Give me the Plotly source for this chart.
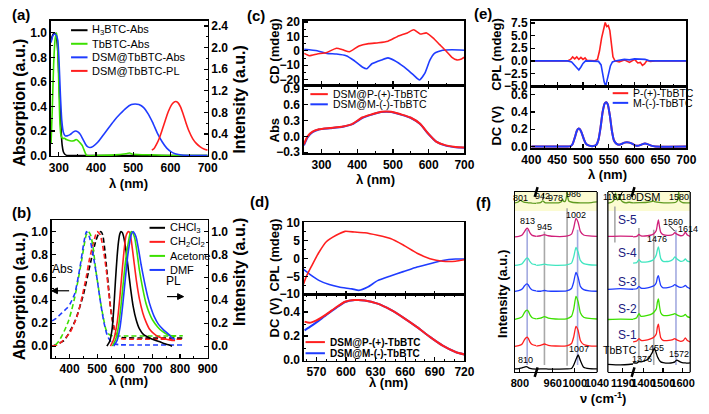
import plotly.graph_objects as go

W, H = 709, 414
FONT = "Liberation Sans, Arial, Helvetica, sans-serif"

# ---------------- data ----------------
# (a) absorption / PL
a_x_h3btc = [279, 282, 285, 288, 291, 294, 297, 300, 303, 306, 309, 312, 316, 322, 340, 400, 500, 600, 700]
a_y_h3btc = [0.93, 0.97, 0.99, 1.0, 0.99, 0.95, 0.85, 0.65, 0.4, 0.2, 0.08, 0.03, 0.01, 0.0, 0.0, 0.0, 0.0, 0.0, 0.0]
a_x_tbbtc = [279, 282, 286, 290, 294, 297, 300, 303, 306, 310, 315, 320, 330, 340, 346, 352, 358, 363, 367, 371,
             375, 400, 450, 480, 490, 500, 550, 600, 700]
a_y_tbbtc = [0.1, 0.35, 0.75, 0.95, 1.0, 0.88, 0.55, 0.25, 0.16, 0.14, 0.14, 0.13, 0.12, 0.12, 0.13, 0.12, 0.1, 0.08, 0.05, 0.02,
             0.0, 0.0, 0.005, 0.015, 0.02, 0.01, 0.005, 0.0, 0.0]
a_x_dsm_abs = [279, 283, 288, 293, 297, 300, 304, 308, 312, 317, 322, 330, 338, 345, 352, 358, 365, 372, 378, 384,
               392, 405, 420, 435, 450, 465, 480, 495, 505, 515, 528, 540, 552, 565, 578, 590, 602, 615, 630, 660, 700]
a_y_dsm_abs = [0.92, 0.97, 0.99, 0.98, 0.94, 0.8, 0.5, 0.28, 0.19, 0.16, 0.16, 0.17, 0.19, 0.2, 0.19, 0.17, 0.13, 0.09, 0.07, 0.065,
               0.075, 0.11, 0.17, 0.23, 0.29, 0.34, 0.385, 0.415, 0.42, 0.415, 0.39, 0.34, 0.27, 0.18, 0.11, 0.06, 0.03, 0.012, 0.004, 0.0, 0.0]
a_x_pl = [550, 556, 562, 570, 578, 586, 594, 602, 608, 614, 620, 627, 634, 642, 650, 660, 670, 680, 690, 700]
a_y_pl = [0.10, 0.13, 0.2, 0.32, 0.48, 0.65, 0.81, 0.93, 0.98, 1.0, 0.98, 0.9, 0.77, 0.6, 0.45, 0.31, 0.22, 0.16, 0.12, 0.1]
a_names = ["H<sub>3</sub>BTC-Abs", "TbBTC-Abs", "DSM@TbBTC-Abs", "DSM@TbBTC-PL"]

# (b) solvents: dashed = absorption, solid = PL
b_names = ["CHCl<sub>3</sub>", "CH<sub>2</sub>Cl<sub>2</sub>", "Acetone", "DMF"]
b_abs_x_chcl3 = [337, 380, 420, 450, 475, 495, 505, 513, 520, 527, 534, 542, 549, 557, 565, 572, 590, 700, 810]
b_abs_y_chcl3 = [0.0, 0.05, 0.22, 0.45, 0.72, 0.92, 0.98, 1.0, 0.97, 0.85, 0.68, 0.49, 0.32, 0.2, 0.12, 0.09, 0.075, 0.07, 0.07]
b_abs_x_ch2cl2 = [337, 355, 372, 388, 402, 417, 431, 446, 460, 472, 484, 493, 499, 505, 511, 518, 525, 533, 542, 550,
                  557, 565, 572, 580, 589, 620, 700, 810]
b_abs_y_ch2cl2 = [0.0, 0.01, 0.04, 0.08, 0.12, 0.2, 0.29, 0.44, 0.6, 0.76, 0.88, 0.96, 1.0, 0.99, 0.97, 0.9, 0.8, 0.66, 0.46, 0.3,
                  0.2, 0.13, 0.09, 0.075, 0.065, 0.06, 0.06, 0.06]
b_abs_x_acetone = [349, 360, 372, 384, 396, 408, 419, 431, 443, 452, 460, 468, 476, 484, 495, 505, 513, 522, 531, 540,
                   548, 560, 572, 600, 700, 810]
b_abs_y_acetone = [0.01, 0.04, 0.09, 0.15, 0.22, 0.32, 0.43, 0.58, 0.74, 0.87, 0.97, 1.0, 0.97, 0.88, 0.66, 0.5, 0.37, 0.25, 0.15, 0.11,
                   0.095, 0.09, 0.088, 0.088, 0.088, 0.09]
b_abs_x_dmf = [337, 350, 372, 390, 402, 419, 437, 452, 461, 472, 487, 500, 507, 516, 525, 533, 542, 551, 560, 580, 650, 810]
b_abs_y_dmf = [0.22, 0.24, 0.29, 0.33, 0.37, 0.46, 0.68, 0.91, 1.0, 0.95, 0.77, 0.58, 0.46, 0.32, 0.2, 0.12, 0.065, 0.035, 0.02, 0.012, 0.01, 0.01]
b_pl_x_chcl3 = [535, 545, 554, 560, 566, 572, 577, 582, 586, 591, 597, 605, 613, 621, 630, 641, 653, 668, 683, 700, 724, 745, 760, 771]
b_pl_y_chcl3 = [0.0, 0.04, 0.15, 0.33, 0.57, 0.78, 0.91, 0.98, 1.0, 0.99, 0.94, 0.82, 0.66, 0.5, 0.35, 0.23, 0.15, 0.1, 0.08, 0.06, 0.04, 0.02, 0.01, 0.0]
b_pl_x_ch2cl2 = [548, 560, 572, 581, 589, 597, 604, 609, 614, 619, 624, 632, 642, 653, 665, 677, 689, 705, 724, 750, 771, 782]
b_pl_y_ch2cl2 = [0.0, 0.06, 0.2, 0.4, 0.62, 0.83, 0.96, 0.99, 1.0, 0.98, 0.91, 0.76, 0.57, 0.41, 0.29, 0.21, 0.15, 0.11, 0.08, 0.06, 0.05, 0.05]
b_pl_x_acetone = [555, 567, 577, 586, 595, 604, 613, 619, 624, 629, 636, 644, 653, 665, 677, 690, 700, 718, 735, 755, 771, 782]
b_pl_y_acetone = [0.0, 0.06, 0.17, 0.35, 0.57, 0.77, 0.91, 0.98, 1.0, 0.99, 0.94, 0.82, 0.66, 0.5, 0.37, 0.28, 0.23, 0.17, 0.13, 0.1, 0.09, 0.08]
b_pl_x_dmf = [560, 572, 583, 592, 601, 610, 618, 624, 630, 636, 642, 650, 659, 671, 683, 695, 706, 722, 741, 760, 771, 782]
b_pl_y_dmf = [0.0, 0.05, 0.17, 0.35, 0.57, 0.78, 0.91, 0.98, 1.0, 0.98, 0.94, 0.84, 0.71, 0.56, 0.43, 0.33, 0.26, 0.19, 0.14, 0.1, 0.07, 0.06]

# (c) CD and absorption
c_names = ["DSM@P-(+)-TbBTC", "DSM@M-(-)-TbBTC"]
c_cd_x_p = [252, 266, 288, 315, 342, 360, 378, 405, 432, 459, 486, 513, 540, 558, 576, 594, 612, 630, 648, 665, 679, 692, 700]
c_cd_y_p = [-1.8, -3.4, -2.2, -1.1, 1.8, 0.7, -0.7, 3.4, 5.0, 5.6, 6.7, 10.0, 12.4, 14.6, 11.7, 12.4, 9.0, 4.5, 0.0, -4.5, -6.3, -5.6, -4.5]
c_cd_x_m = [252, 288, 315, 342, 369, 391, 414, 427, 441, 468, 486, 504, 531, 558, 574, 589, 603, 616, 639, 665, 700]
c_cd_y_m = [1.1, 0.0, -1.8, -2.2, -3.4, -6.7, -11.2, -12.4, -9.0, -6.3, -4.9, -6.7, -11.2, -16.9, -20.2, -15.7, -6.7, -1.8, 0.4, 0.7, 0.4]
c_abs_x = [251, 261, 275, 293, 324, 360, 387, 414, 441, 468, 495, 522, 549, 576, 598, 621, 648, 675, 700]
c_abs_y_p = [-0.15, 0.0, 0.09, 0.135, 0.16, 0.19, 0.24, 0.36, 0.42, 0.47, 0.47, 0.42, 0.36, 0.24, 0.06, -0.1, -0.17, -0.2, -0.21]
c_abs_y_m = [-0.17, -0.02, 0.08, 0.13, 0.155, 0.185, 0.235, 0.35, 0.415, 0.465, 0.465, 0.415, 0.355, 0.235, 0.055, -0.1, -0.175, -0.205, -0.215]

# (d) CPL and DC of DSM
d_cpl_x_p = [557, 560, 565, 572, 580, 590, 599, 609, 619, 632, 645, 658, 672, 685, 698, 711, 720]
d_cpl_y_p = [-7.1, -4.9, -2.2, 1.4, 4.6, 6.4, 7.5, 7.3, 7.1, 6.4, 5.5, 3.7, 1.4, -0.1, -0.8, -0.8, -0.4]
d_cpl_x_m = [557, 563, 573, 583, 593, 606, 613, 622, 632, 645, 658, 672, 685, 698, 711, 720]
d_cpl_y_m = [-3.1, -4.4, -6.2, -7.3, -8.0, -8.5, -8.9, -8.0, -6.2, -4.9, -3.7, -2.4, -1.5, -0.6, -0.2, -0.2]
d_dc_x = [558, 563, 570, 580, 590, 599, 609, 619, 632, 645, 658, 672, 685, 698, 711, 720]
d_dc_y_p = [0.32, 0.31, 0.33, 0.38, 0.44, 0.486, 0.5, 0.497, 0.47, 0.42, 0.354, 0.274, 0.193, 0.12, 0.067, 0.046]
d_dc_y_m = [0.247, 0.274, 0.314, 0.376, 0.435, 0.484, 0.5, 0.497, 0.47, 0.42, 0.354, 0.274, 0.193, 0.12, 0.067, 0.046]

# (e) CPL and DC of TbBTC
e_names = ["P-(+)-TbBTC", "M-(-)-TbBTC"]
e_cpl_x_p = [400, 470, 476, 480, 484, 488, 492, 496, 500, 504, 508, 514, 522, 528, 532, 536, 540, 543, 546, 549,
             552, 555, 558, 562, 570, 580, 590, 600, 606, 611, 615, 619, 624, 630, 640, 700]
e_cpl_y_p = [0.0, 0.0, 0.3, 0.8, 0.4, 0.8, 0.3, 0.7, 0.3, 0.6, 0.1, 0.0, 0.0, 0.3, 2.0, 4.5, 6.5, 7.6, 6.8, 7.0,
             6.0, 3.5, 0.8, 0.0, -0.2, 0.2, -0.3, 0.3, -0.4, -0.3, -0.9, -0.6, 0.1, -0.1, 0.0, 0.0]
e_cpl_x_m = [400, 470, 478, 483, 488, 492, 496, 500, 505, 520, 530, 535, 538, 541, 544, 547, 550, 553, 557, 562,
             580, 590, 600, 610, 620, 630, 700]
e_cpl_y_m = [0.0, 0.0, -0.2, -0.8, -1.3, -1.8, -1.2, -0.5, 0.0, 0.0, -0.1, -0.8, -2.5, -4.2, -5.0, -3.5, -2.2, -1.0, -0.2, 0.0,
             0.3, 0.2, 0.4, 0.3, 0.3, 0.0, 0.0]
e_dc_x = [400, 470, 476, 480, 484, 488, 491, 494, 498, 502, 506, 512, 520, 526, 530, 534, 538, 542, 545, 548,
          552, 556, 560, 565, 570, 575, 580, 585, 590, 596, 602, 608, 614, 620, 626, 632, 640, 700]
e_dc_y = [0, 0, 0.005, 0.03, 0.1, 0.18, 0.207, 0.2, 0.15, 0.08, 0.03, 0.01, 0.005, 0.02, 0.08, 0.22, 0.4, 0.5, 0.515, 0.49,
          0.36, 0.18, 0.07, 0.03, 0.02, 0.03, 0.045, 0.05, 0.045, 0.03, 0.01, 0.01, 0.025, 0.035, 0.025, 0.01, 0, 0]

# (f) Raman spectra (stacked, relative intensities)
f_x_grid = [791, 798, 804, 808, 811, 813, 815, 818, 822, 829,
            930, 938, 945, 952, 965, 985, 994, 998, 1002, 1006, 1010, 1016, 1026, 1040,
            1143, 1182, 1222,
            1346, 1365, 1376, 1387, 1420, 1445, 1455, 1465, 1471, 1476, 1481, 1488, 1500, 1530, 1550, 1560, 1570, 1590, 1604, 1614, 1624, 1639]
f_tbbtc = [0.3, 0.5, 0.8, 1.3, 1.5, 1.4, 1.0, 0.6, 0.3, 0.2,
           0.2, 0.3, 0.3, 0.2, 0.2, 0.3, 0.5, 2.5, 5.5, 8.0, 5.0, 1.2, 0.4, 0.3,
           2.8, 2.5, 3.0,
           3.7, 3.5, 4.5, 4.2, 5.5, 9.5, 11.8, 9.0, 7.0, 6.0, 5.0, 4.2, 3.8, 3.5, 3.8, 4.2, 5.2, 4.0, 3.6, 3.6, 3.5, 3.6]
f_s1 = [0.2, 0.6, 1.5, 3.8, 5.0, 5.3, 4.6, 2.6, 1.2, 0.6,
        0.3, 0.8, 1.5, 0.8, 0.4, 0.5, 1.8, 5.5, 11.3, 9.0, 3.5, 1.2, 0.5, 0.3,
        None, None, None,
        2.7, 3.2, 4.5, 3.5, 3.8, 4.8, 5.5, 7.0, 11.0, 12.6, 9.0, 5.0, 3.5, 3.5, 4.0, 4.5, 3.8, 3.0, 3.5, 4.9, 3.5, 2.7]
f_s2 = [0.3, 0.8, 1.8, 4.0, 5.2, 5.4, 4.8, 2.8, 1.2, 0.6,
        0.5, 1.0, 1.8, 1.0, 0.5, 0.6, 2.0, 6.0, 13.0, 10.0, 4.0, 1.5, 0.8, 0.5,
        0.2, 0.4, 0.3,
        0.4, 1.2, 3.5, 2.0, 2.5, 3.5, 4.5, 6.0, 10.0, 11.6, 8.0, 4.0, 2.5, 2.5, 3.0, 3.5, 2.8, 2.0, 2.2, 3.0, 1.8, 1.2]
f_s3 = [0.2, 0.6, 1.5, 3.2, 4.2, 4.4, 3.8, 2.2, 1.0, 0.5,
        0.4, 0.3, 0.7, 0.4, 0.3, 0.5, 1.8, 5.5, 10.8, 8.0, 3.0, 1.2, 0.5, 0.3,
        1.3, 1.8, 1.4,
        1.5, 1.7, 3.0, 2.0, 2.2, 3.0, 3.5, 5.0, 8.0, 9.0, 6.5, 3.5, 2.2, 2.5, 3.2, 4.0, 3.3, 2.4, 2.8, 3.5, 2.5, 1.8]
f_s4 = [0.3, 0.5, 1.2, 2.8, 4.0, 4.4, 4.0, 2.3, 1.0, 0.6,
        0.3, 0.5, 0.9, 0.5, 0.3, 0.5, 1.5, 5.0, 10.2, 7.5, 3.0, 1.2, 0.6, 0.4,
        None, None, None,
        1.5, 1.8, 3.5, 2.2, 2.2, 3.0, 4.0, 6.0, 9.0, 10.5, 8.0, 4.0, 2.5, 2.5, 3.5, 5.0, 4.0, 2.5, 2.8, 3.8, 2.6, 2.2]
f_s5 = [0.0, 0.3, 1.0, 2.8, 4.2, 4.8, 4.2, 2.2, 0.8, 0.3,
        0.2, 0.6, 1.2, 0.6, 0.2, 0.4, 1.5, 5.0, 10.2, 8.0, 3.0, 1.0, 0.5, 0.3,
        0.2, 0.4, 0.3,
        0.0, 0.3, 1.3, 0.5, 0.6, 1.2, 2.0, 3.5, 7.0, 9.4, 6.0, 2.5, 1.2, 0.8, 1.3, 2.3, 1.5, 0.6, 1.0, 2.6, 1.0, 0.2]
f_x_dsm = [791, 796, 799, 801, 803, 807, 815, 822, 829,
           930, 938, 942, 946, 960, 972, 976, 978, 980, 983, 985, 986, 987, 989, 995, 1010, 1025, 1040,
           1143, 1155, 1162, 1165, 1167, 1170, 1174, 1178, 1180, 1183, 1190, 1200, 1210, 1222,
           1346, 1380, 1420, 1445, 1450, 1455, 1490, 1530, 1565, 1575, 1578, 1580, 1582, 1586, 1600, 1620, 1639]
f_dsm = [0.5, 0.8, 1.5, 2.0, 1.5, 0.8, 0.5, 0.3, 0.2,
         0.3, 0.6, 1.6, 0.6, 0.4, 0.6, 1.2, 2.3, 1.2, 1.5, 4.0, 6.5, 4.0, 1.5, 0.8, 0.5, 0.5, 1.0,
         0.3, 0.8, 2.0, 4.5, 6.0, 3.0, 2.0, 4.0, 5.0, 2.5, 1.0, 0.5, 0.8, 0.5,
         0.5, 0.6, 0.8, 1.3, 1.5, 1.2, 0.6, 0.5, 0.8, 2.0, 4.5, 6.5, 4.5, 1.5, 0.6, 0.5, 0.5]
f_offsets = [1.5, 14.1, 29.0, 44.6, 59.0, 75.1, 93.5]   # TbBTC, S-1 ... S-5, DSM
f_labels = ["TbBTC", "S-1", "S-2", "S-3", "S-4", "S-5", "DSM"]
f_marker_lines = [("x9", 813), ("x10", 945), ("x10", 986), ("x10", 1005),
                  ("x11", 1165), ("x12", 1376), ("x12", 1452), ("x12", 1566)]

# ---------------- helpers ----------------
RED, BLUE, GREEN, BLACK = "#ff1f1f", "#1f3cff", "#3ce000", "#000000"
MAG, CYAN, OLIVE = "#d0207a", "#40e6c0", "#5f9a20"
NAVY = "#202080"

def px(v): return v / W
def py(v): return 1 - v / H
def dx(a, b): return [px(a), px(b)]
def dy(top, bottom): return [py(bottom), py(top)]

fig = go.Figure()

def add_line(x, y, xa, ya, color, width=1.6, dash=None, shape="spline"):
    ln = dict(color=color, width=width, shape=shape)
    if dash:
        ln["dash"] = dash
    if shape == "spline":
        ln["smoothing"] = 0.5
    fig.add_trace(go.Scatter(x=x, y=y, xaxis=xa, yaxis=ya, mode="lines", line=ln,
                             showlegend=False, hoverinfo="skip", connectgaps=False))

TICKFONT = dict(family=FONT, size=12, color="black", weight="bold")

def axis(**kw):
    d = dict(showline=True, linecolor="black", linewidth=1.3, mirror=True,
             ticks="inside", ticklen=4, tickwidth=1.2, tickcolor="black", tickangle=0,
             showgrid=False, zeroline=False, tickfont=TICKFONT, fixedrange=True)
    d.update(kw)
    return d

def minor(dt):
    return dict(ticks="inside", ticklen=2, tickwidth=1, tickcolor="black", dtick=dt, showgrid=False)

def ann(text, x, y, size=12, bold=False, angle=0, color="black", xanchor="center"):
    fig.add_annotation(text=text, x=px(x), y=py(y), xref="paper", yref="paper", showarrow=False,
                       textangle=angle, xanchor=xanchor, yanchor="middle",
                       font=dict(family=FONT, size=size, color=color, weight="bold" if bold else "normal"))

def legend_item(x0, x1, y, color, text, size, bold=False):
    fig.add_shape(type="line", xref="paper", yref="paper", x0=px(x0), x1=px(x1), y0=py(y), y1=py(y),
                  line=dict(color=color, width=2))
    ann(text, x1 + 3, y, size=size, bold=bold, xanchor="left")

def arrow(x_tail, x_head, y):
    # horizontal arrow drawn with shapes (paper pixels)
    fig.add_shape(type="line", xref="paper", yref="paper", x0=px(x_tail), x1=px(x_head), y0=py(y), y1=py(y),
                  line=dict(color="black", width=1.2))
    s = 1 if x_head > x_tail else -1
    path = "M {} {} L {} {} L {} {} Z".format(px(x_head), py(y), px(x_head - s * 6), py(y - 3),
                                              px(x_head - s * 6), py(y + 3))
    fig.add_shape(type="path", xref="paper", yref="paper", path=path,
                  fillcolor="black", line=dict(color="black", width=1))

# ---------------- (a) ----------------
add_line(a_x_h3btc, a_y_h3btc, "x", "y", BLACK)
add_line(a_x_tbbtc, a_y_tbbtc, "x", "y", GREEN)
add_line(a_x_dsm_abs, a_y_dsm_abs, "x", "y", BLUE)
add_line(a_x_pl, a_y_pl, "x", "y2", RED)
for i, (nm, col) in enumerate(zip(a_names, [BLACK, GREEN, BLUE, RED])):
    legend_item(63, 80, 25 + 14 * i, col, nm, 11)

# ---------------- (b) ----------------
DASH = "5px,3px"
add_line(b_abs_x_chcl3, b_abs_y_chcl3, "x2", "y3", BLACK, dash=DASH)
add_line(b_abs_x_ch2cl2, b_abs_y_ch2cl2, "x2", "y3", RED, dash=DASH)
add_line(b_abs_x_acetone, b_abs_y_acetone, "x2", "y3", GREEN, dash=DASH)
add_line(b_abs_x_dmf, b_abs_y_dmf, "x2", "y3", BLUE, dash=DASH)
add_line(b_pl_x_chcl3, b_pl_y_chcl3, "x2", "y4", BLACK)
add_line(b_pl_x_ch2cl2, b_pl_y_ch2cl2, "x2", "y4", RED)
add_line(b_pl_x_acetone, b_pl_y_acetone, "x2", "y4", GREEN)
add_line(b_pl_x_dmf, b_pl_y_dmf, "x2", "y4", BLUE)
for i, (nm, col) in enumerate(zip(b_names, [BLACK, RED, GREEN, BLUE])):
    legend_item(144, 160, 229 + 14.5 * i, col, nm, 11)
ann("Abs", 54, 272, size=12)
ann("PL", 169, 284, size=12)
arrow(61, 43, 294)
arrow(162, 179, 300)

# ---------------- (c) ----------------
add_line(c_cd_x_m, c_cd_y_m, "x3", "y5", BLUE)
add_line(c_cd_x_p, c_cd_y_p, "x3", "y5", RED)
add_line(c_abs_x, c_abs_y_m, "x4", "y6", BLUE, width=2)
add_line(c_abs_x, c_abs_y_p, "x4", "y6", RED, width=2)
legend_item(310, 328, 91, RED, c_names[0], 10.5)
legend_item(310, 328, 101.5, BLUE, c_names[1], 10.5)

# ---------------- (d) ----------------
add_line(d_cpl_x_m, d_cpl_y_m, "x5", "y7", BLUE)
add_line(d_cpl_x_p, d_cpl_y_p, "x5", "y7", RED)
add_line(d_dc_x, d_dc_y_m, "x6", "y8", BLUE, width=2)
add_line(d_dc_x, d_dc_y_p, "x6", "y8", RED, width=2)
legend_item(305, 325, 347, RED, c_names[0], 10, bold=True)
legend_item(305, 325, 358.5, BLUE, c_names[1], 10, bold=True)

# ---------------- (e) ----------------
add_line(e_cpl_x_p, e_cpl_y_p, "x7", "y9", RED, shape="linear")
add_line(e_cpl_x_m, e_cpl_y_m, "x7", "y9", BLUE, shape="linear")
add_line(e_dc_x, e_dc_y, "x8", "y10", RED, width=2)
add_line(e_dc_x, e_dc_y, "x8", "y10", BLUE, width=2)
legend_item(622, 638, 90, RED, e_names[0], 10.5)
legend_item(622, 638, 100, BLUE, e_names[1], 10.5)

# ---------------- (f) ----------------
f_segments = [(791, 829, "x9"), (930, 1040.5, "x10"), (1143, 1222, "x11"), (1346, 1639, "x12")]
f_colors = [BLACK, RED, GREEN, BLUE, CYAN, MAG, OLIVE]
f_series = [f_tbbtc, f_s1, f_s2, f_s3, f_s4, f_s5, f_dsm]

# pale yellow band behind the DSM reference spectrum
for x0, x1 in [(521, 606), (617, 702)]:
    fig.add_shape(type="rect", xref="paper", yref="y11", x0=px(x0), x1=px(x1), y0=89.5, y1=100,
                  fillcolor="#fbfbd2", line=dict(width=0), layer="below")

for (xa, xv), y0, y1, col in zip(f_marker_lines,
                                 [4, 4, 3.5, 4, 72, 5, 4, 4],
                                 [79, 78, 91, 79, 92, 80, 79, 79],
                                 ["#a3aae0", "#a8a8a8", "#a8a8a8", "#a3aae0", "#a8a8a8", "#a8a8a8", "#a8a8a8", "#a3aae0"]):
    fig.add_shape(type="line", xref=xa, yref="y11", x0=xv, x1=xv, y0=y0, y1=y1,
                  line=dict(color=col, width=1.6), layer="between")

for i, (ys, off, col) in enumerate(zip(f_series, f_offsets, f_colors)):
    xs = f_x_dsm if i == 6 else f_x_grid
    for lo, hi, xa in f_segments:
        sx = [x for x in xs if lo <= x <= hi]
        sy = [(y + off if y is not None else None) for x, y in zip(xs, ys) if lo <= x <= hi]
        if all(v is None for v in sy):
            continue
        add_line(sx, sy, xa, "y11", col, width=1.3)

def fann(text, xa, xv, yv, size=9, color="black"):
    fig.add_annotation(text=text, x=xv, y=yv, xref=xa, yref="y11", showarrow=False,
                       font=dict(family=FONT, size=size, color=color))

for t, xa, xv, yv in [("801", "x9", 801, 96.8), ("942", "x10", 942, 98.0), ("978", "x10", 965, 96.4),
                      ("986", "x10", 998, 98.9), ("813", "x9", 813, 84.0), ("945", "x10", 945, 80.6),
                      ("1002", "x10", 1002, 87.2), ("810", "x9", 810, 6.6), ("1007", "x10", 1007, 13.0),
                      ("1167", "x11", 1159, 97.3), ("1180", "x11", 1203, 97.3), ("1580", "x12", 1579, 97.3),
                      ("1560", "x12", 1549, 83.3), ("1614", "x12", 1627, 79.6), ("1476", "x12", 1470, 73.7),
                      ("1455", "x12", 1455, 13.4), ("1376", "x12", 1391, 7.5), ("1572", "x12", 1579, 10.2)]:
    fann(t, xa, xv, yv)
fann("DSM", "x12", 1425, 97.3, size=11)
fann("TbBTC", "x11", 1180, 12.4, size=10.5)
for lab, yv in zip(f_labels[1:6], [20.4, 35.0, 50.0, 66.1, 84.4]):
    fann(lab, "x11", 1206, yv, size=12, color=NAVY)

# tiny pointer strokes from labels to peaks (pixel-sized, anchored at the peak)
for xa, xv, yv, axp, ayp in [("x10", 942, 95.6, 1, 7), ("x11", 1166, 97.0, -5, 8),
                             ("x11", 1180, 97.5, 5, 8), ("x12", 1560, 78.2, -6, 6)]:
    fig.add_shape(type="line", xref=xa, yref="y11", xsizemode="pixel", ysizemode="pixel",
                  xanchor=xv, yanchor=yv, x0=0, y0=0, x1=axp, y1=ayp,
                  line=dict(color="black", width=1))

# extra frame lines and axis-break marks of (f)
for xv in [606, 617, 702]:
    fig.add_shape(type="line", xref="paper", yref="paper", x0=px(xv), x1=px(xv), y0=py(192), y1=py(378),
                  line=dict(color="black", width=1.3))
for xb, yb in [(543, 378), (543, 192), (643, 378), (643, 192)]:
    fig.add_shape(type="line", xref="paper", yref="paper", x0=px(xb - 1.5), x1=px(xb + 1.5),
                  y0=py(yb + 5), y1=py(yb - 5), line=dict(color="black", width=2.5))

# ---------------- titles ----------------
ann("(a)", 11, 9, 15, True)
ann("(b)", 12, 213, 15, True)
ann("(c)", 254, 10, 15, True)
ann("(d)", 258, 202, 15, True)
ann("(e)", 488, 8, 15, True)
ann("(f)", 489, 203, 15, True)

ann("Absorption (a.u.)", 10, 100, 16, True, -90)
ann("Intensity (a.u.)", 237, 97, 16, True, -90)
ann("λ (nm)", 122, 183, 13, True)
ann("Absorption (a.u.)", 10, 300, 16, True, -90)
ann("Intensity (a.u.)", 237, 275, 16, True, -90)
ann("λ (nm)", 122, 387, 13, True)
ann("CD (mdeg)", 273, 47, 13, True, -90)
ann("Abs", 273, 128, 13, True, -90)
ann("λ (nm)", 377, 179, 13, True)
ann("CPL (mdeg)", 273, 257, 13, True, -90)
ann("DC (V)", 273, 322, 13, True, -90)
ann("λ (nm)", 391, 389, 13, True)
ann("CPL (mdeg)", 502, 50, 13, True, -90)
ann("DC (V)", 502, 123, 13, True, -90)
ann("λ (nm)", 617, 174, 13, True)
ann("Intensity (a.u.)", 508, 297, 13, True, -90)
ann("ν (cm<sup>-1</sup>)", 612, 405, 13, True)

# ---------------- layout ----------------
FTICK = dict(family=FONT, size=11, color="black", weight="bold")
fig.update_layout(
    width=W, height=H, autosize=False,
    margin=dict(l=0, r=0, t=0, b=0),
    paper_bgcolor="white", plot_bgcolor="rgba(0,0,0,0)",
    font=dict(family=FONT, color="black"),
    showlegend=False,
    # (a)
    xaxis=axis(domain=dx(42, 204), anchor="y", range=[278, 700], dtick=100, tick0=0, minor=minor(50)),
    yaxis=axis(domain=dy(15, 155), anchor="x", range=[-0.005, 1.1], dtick=0.2, tick0=0,
               tickformat=".1f", minor=minor(0.1), mirror=False),
    yaxis2=axis(overlaying="y", side="right", anchor="x", range=[-0.011, 2.5], dtick=0.4, tick0=0,
                tickformat=".1f", minor=minor(0.2), mirror=False),
    # (b)
    xaxis2=axis(domain=dx(43, 204), anchor="y3", range=[335, 900], dtick=100, tick0=0, minor=minor(50)),
    yaxis3=axis(domain=dy(221, 363), anchor="x2", range=[-0.1, 1.1],
                tickvals=[0, 0.2, 0.4, 0.6, 0.8, 1.0], tickformat=".1f", minor=minor(0.1), mirror=False),
    yaxis4=axis(overlaying="y3", side="right", anchor="x2", range=[-0.1, 1.1],
                tickvals=[0, 0.2, 0.4, 0.6, 0.8, 1.0], tickformat=".1f", minor=minor(0.1), mirror=False),
    # (c)
    xaxis3=axis(domain=dx(303, 469), anchor="y5", range=[250, 700], dtick=100, tick0=0,
                minor=minor(50), showticklabels=False),
    yaxis5=axis(domain=dy(15, 82), anchor="x3", range=[-24, 21], tickvals=[-20, -10, 0, 10, 20], minor=minor(5)),
    xaxis4=axis(domain=dx(303, 469), anchor="y6", range=[250, 700], dtick=100, tick0=0,
                minor=minor(50), mirror="ticks"),
    yaxis6=axis(domain=dy(82, 152), anchor="x4", range=[-0.32, 0.97],
                tickvals=[-0.3, 0, 0.3, 0.6, 0.9], tickformat=".1f"),
    # (d)
    xaxis5=axis(domain=dx(303, 469), anchor="y7", range=[557, 720], dtick=30, tick0=570,
                minor=minor(10), showticklabels=False),
    yaxis7=axis(domain=dy(223, 298), anchor="x5", range=[-10.1, 10.1], tickvals=[-10, -5, 0, 5, 10], minor=minor(2.5)),
    xaxis6=axis(domain=dx(303, 469), anchor="y8", range=[557, 720], dtick=30, tick0=570,
                minor=minor(10), mirror="ticks"),
    yaxis8=axis(domain=dy(298, 366), anchor="x6", range=[-0.004, 0.545], tickvals=[0, 0.2, 0.4],
                tickformat=".1f", minor=minor(0.1)),
    # (e)
    xaxis7=axis(domain=dx(538, 698), anchor="y9", range=[400, 700], dtick=50, tick0=0,
                minor=minor(25), showticklabels=False),
    yaxis9=axis(domain=dy(15, 83), anchor="x7", range=[-5.05, 8.0], tickvals=[-5, -2.5, 0, 2.5, 5, 7.5],
                tickformat=".1f"),
    xaxis8=axis(domain=dx(538, 698), anchor="y10", range=[400, 700], dtick=50, tick0=0,
                minor=minor(25), mirror="ticks"),
    yaxis10=axis(domain=dy(83, 147), anchor="x8", range=[-0.022, 0.698], tickvals=[0, 0.2, 0.4, 0.6],
                 tickformat=".1f"),
    # (f)
    xaxis9=axis(domain=dx(521, 543), anchor="y11", range=[791, 829], tickvals=[800], tickfont=FTICK),
    xaxis10=axis(domain=dx(543, 606), anchor="y11", range=[930, 1040.5], tickvals=[960, 1000, 1040], tickfont=FTICK),
    xaxis11=axis(domain=dx(617, 643), anchor="y11", range=[1143, 1222], tickvals=[1190], tickfont=FTICK),
    xaxis12=axis(domain=dx(643, 702), anchor="y11", range=[1346, 1639], tickvals=[1400, 1500, 1600], tickfont=FTICK),
    yaxis11=axis(domain=dy(192, 378), anchor="x9", range=[0, 100], showticklabels=False,
                 ticks="", mirror=False),
)

# remove the browser's default 8px body margin so the 709x414 figure fills the window exactly
fig.write_html("out.html", config={"displayModeBar": False, "staticPlot": True},
               post_script="document.body.style.margin='0';document.body.style.overflow='hidden';")
